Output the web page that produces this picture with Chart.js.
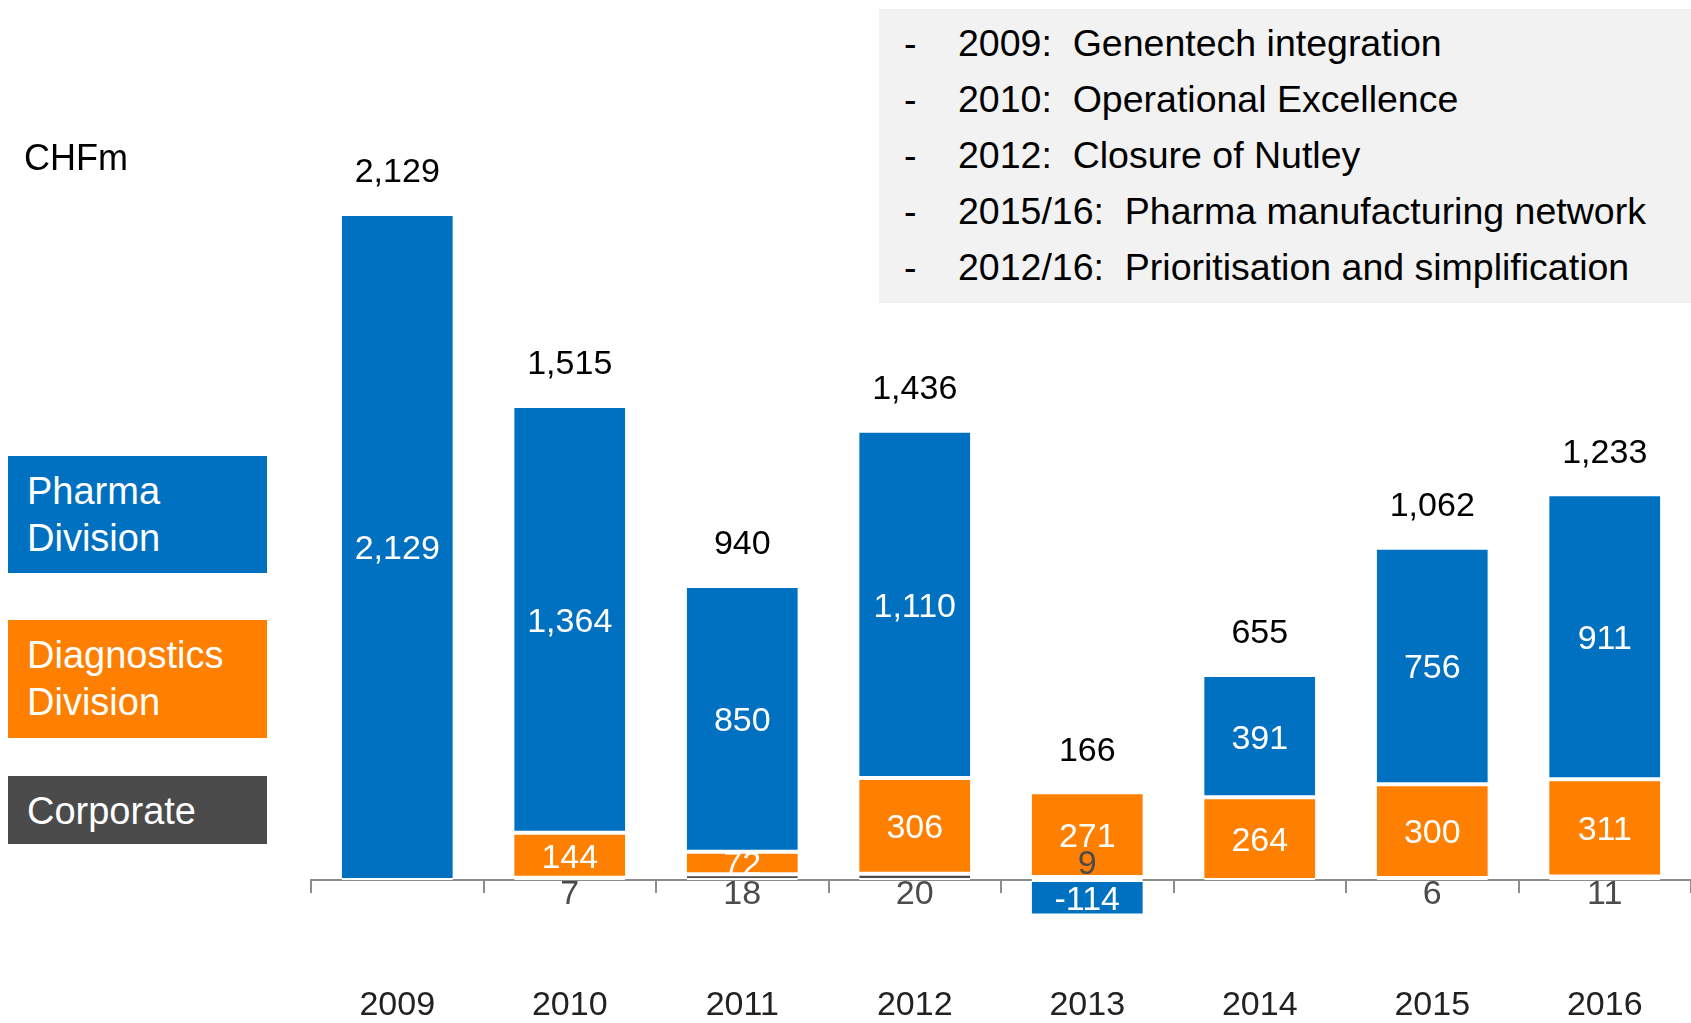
<!DOCTYPE html>
<html>
<head>
<meta charset="utf-8">
<script src="https://cdn.jsdelivr.net/npm/chart.js@4.4.1/dist/chart.umd.min.js"></script>
<style>
  body { margin: 0; background: #fff; }
  #wrap { position: relative; width: 1691px; height: 1023px; overflow: hidden; }
  #chart { position: absolute; left: 0; top: 0; }
  .unit { position: absolute; left: 24px; top: 137px; font: 36px "Liberation Sans", Arial, sans-serif; color: #000; }
  .key { position: absolute; left: 8px; width: 259px; box-sizing: border-box; padding: 12px 0 0 19px;
         color: #fff; font: 38px/47px "Liberation Sans", Arial, sans-serif; }
  .notes { position: absolute; left: 879px; top: 9px; width: 812px; height: 294px; background: #f2f2f2;
           box-sizing: border-box; padding-top: 6px; font: 37.5px/56px "Liberation Sans Narrow", "Liberation Sans", sans-serif; color: #000; }
  .notes div { position: relative; height: 56px; white-space: pre; }
  .notes .dash { position: absolute; left: 25px; }
  .notes .txt { position: absolute; left: 79px; }
</style>
</head>
<body>
<div id="wrap">
  <canvas id="chart" width="1691" height="1023"></canvas>
  <div class="unit">CHFm</div>
  <div class="key" style="top:456px;height:117px;background:#0070c0">Pharma<br>Division</div>
  <div class="key" style="top:620px;height:118px;background:#ff7f00">Diagnostics<br>Division</div>
  <div class="key" style="top:776px;height:68px;background:#4b4b4b">Corporate</div>
  <div class="notes" id="notes"></div>
</div>
<script>
const years = ['2009', '2010', '2011', '2012', '2013', '2014', '2015', '2016'];
const pharma = [2129, 1364, 850, 1110, -114, 391, 756, 911];
const diagnostics = [null, 144, 72, 306, 271, 264, 300, 311];
const corporate = [null, 7, 18, 20, 9, null, 6, 11];

const notes = [
  ['2009:', 'Genentech integration'],
  ['2010:', 'Operational Excellence'],
  ['2012:', 'Closure of Nutley'],
  ['2015/16:', 'Pharma manufacturing network'],
  ['2012/16:', 'Prioritisation and simplification']
];

const blue = '#0070c0';
const orange = '#ff7f00';
const dark = '#4b4b4b';
const narrow = '"Liberation Sans Narrow", "Liberation Sans", sans-serif';
const numFont = '34px ' + narrow;

document.getElementById('notes').innerHTML = notes
  .map(n => `<div><span class="dash">-</span><span class="txt">${n[0]}  ${n[1]}</span></div>`)
  .join('');

const fmt = v => v.toLocaleString('en-US');

// value labels: inside segments, corporate under the axis, totals on top
const labelPlugin = {
  id: 'labels',
  afterDatasetsDraw(chart) {
    const ctx = chart.ctx;
    const zero = chart.scales.y.getPixelForValue(0);
    ctx.save();
    ctx.font = numFont;
    ctx.textAlign = 'center';
    ctx.textBaseline = 'middle';

    chart.getDatasetMeta(0).data.forEach((el, j) => {
      if (corporate[j] == null) return;
      const y = pharma[j] < 0 ? zero - 15 : zero + 15;
      ctx.fillStyle = dark;
      ctx.fillText(fmt(corporate[j]), el.x, y);
    });

    [1, 2].forEach(i => {
      const values = chart.data.datasets[i].data;
      chart.getDatasetMeta(i).data.forEach((el, j) => {
        if (values[j] == null) return;
        ctx.fillStyle = '#fff';
        ctx.fillText(fmt(values[j]), el.x, (el.y + el.base) / 2 + 3);
      });
    });

    years.forEach((y, j) => {
      let top = zero;
      let total = 0;
      chart.data.datasets.forEach((ds, i) => {
        const v = ds.data[j];
        if (v == null) return;
        total += v;
        const el = chart.getDatasetMeta(i).data[j];
        if (v > 0) top = Math.min(top, el.y);
      });
      const x = chart.getDatasetMeta(2).data[j].x;
      ctx.fillStyle = '#000';
      ctx.fillText(fmt(total), x, top - 41);
    });
    ctx.restore();
  }
};

const segBorder = { top: 2, bottom: 2, left: 0, right: 0 };

new Chart(document.getElementById('chart'), {
  type: 'bar',
  data: {
    labels: years,
    datasets: [
      { label: 'Corporate', data: corporate, backgroundColor: dark },
      { label: 'Diagnostics Division', data: diagnostics, backgroundColor: orange },
      { label: 'Pharma Division', data: pharma, backgroundColor: blue }
    ].map(d => Object.assign(d, {
      borderColor: '#fff',
      borderWidth: segBorder,
      borderSkipped: false,
      categoryPercentage: 1,
      barPercentage: 0.644
    }))
  },
  options: {
    responsive: false,
    animation: false,
    layout: { padding: { left: 311, right: 0, top: 0, bottom: 0 } },
    plugins: { legend: { display: false }, tooltip: { enabled: false } },
    scales: {
      x: {
        stacked: true,
        grid: { display: false, drawTicks: false },
        border: { display: false },
        ticks: { color: '#222', padding: 15, font: { family: narrow, size: 34 } },
        afterFit(scale) { scale.height = 53; }
      },
      axis0: {
        type: 'category',
        axis: 'x',
        position: { y: 0 },
        z: 1,
        grid: { display: true, drawOnChartArea: false, drawTicks: true, tickLength: 12, color: '#8c8c8c', lineWidth: 2, offset: true },
        border: { display: true, color: '#8c8c8c', width: 2 },
        ticks: { display: false }
      },
      y: {
        stacked: true,
        display: false,
        min: -288,
        max: 2813
      }
    }
  },
  plugins: [labelPlugin]
});
</script>
</body>
</html>
